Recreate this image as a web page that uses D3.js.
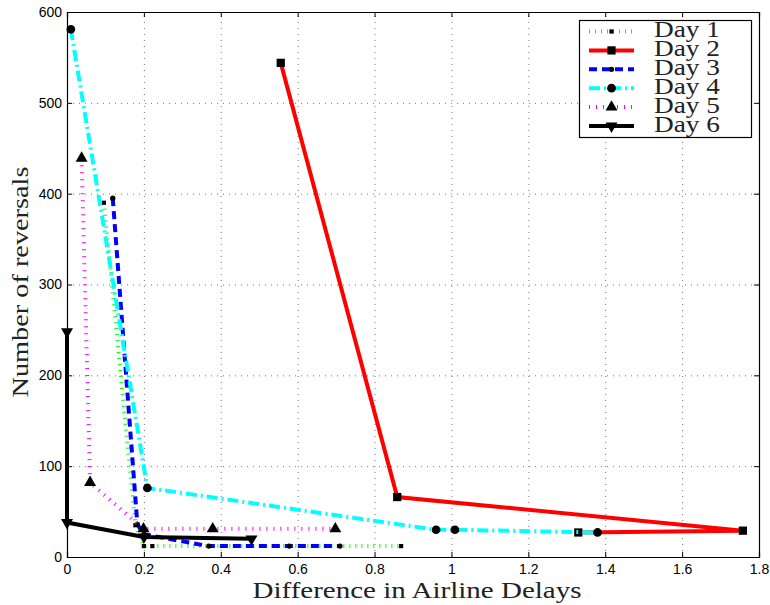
<!DOCTYPE html>
<html>
<head>
<meta charset="utf-8">
<script src="https://cdn.jsdelivr.net/npm/d3@7"></script>
<style>
  body { margin: 0; background: #fff; }
  .tick text { font-family: "Liberation Sans", Arial, sans-serif; font-size: 14px; fill: #000; }
  .grid line { stroke: #777; stroke-dasharray: 1,5; }
  .grid path { display: none; }
</style>
</head>
<body>
<div id="chart"></div>
<script>
// values
var xTicks = [0, 0.2, 0.4, 0.6, 0.8, 1, 1.2, 1.4, 1.6, 1.8];
var yTicks = [0, 100, 200, 300, 400, 500, 600];

var dayNames = ["Day 1", "Day 2", "Day 3", "Day 4", "Day 5", "Day 6"];

var day1Delay = [0.096, 0.178, 0.2, 0.222, 0.869];
var day1Reversals = [390, 35, 12, 12, 12];

var day2Delay = [0.556, 0.859, 1.758, 1.33];
var day2Reversals = [544, 66, 29, 27];

var day3Delay = [0.119, 0.183, 0.2, 0.369, 0.578, 0.71];
var day3Reversals = [395, 36, 25, 12, 12, 12];

var day4Delay = [0.01, 0.209, 0.96, 1.009, 1.38];
var day4Reversals = [581, 76, 30, 30, 27];

var day5Delay = [0.038, 0.06, 0.199, 0.379, 0.698];
var day5Reversals = [439, 82, 31, 31, 31];

var day6Delay = [0, 0, 0.2, 0.48];
var day6Reversals = [248, 38, 22, 20];

var svgWidth = 770;
var svgHeight = 605;

var margin = { top: 12, right: 11, bottom: 48, left: 67 };
var width = svgWidth - margin.left - margin.right;
var height = svgHeight - margin.top - margin.bottom;

var svg = d3.select("#chart")
  .append("svg")
  .attr("width", svgWidth)
  .attr("height", svgHeight);

var chartGroup = svg.append("g")
  .attr("transform", `translate(${margin.left}, ${margin.top})`);

var xScale = d3.scaleLinear().domain([0, 1.8]).range([0, width]);
var yScale = d3.scaleLinear().domain([0, 600]).range([height, 0]);

// dotted grid
chartGroup.append("g")
  .attr("class", "grid")
  .attr("transform", `translate(0, ${height})`)
  .call(d3.axisBottom(xScale).tickValues(xTicks).tickSize(-height).tickFormat(""));
chartGroup.append("g")
  .attr("class", "grid")
  .call(d3.axisLeft(yScale).tickValues(yTicks).tickSize(-width).tickFormat(""));

// styles per day
var series = [
  { x: day1Delay, y: day1Reversals, color: "#00ff00", width: 4, dash: "1,5", marker: d3.symbolSquare, size: 18, rot: 0 },
  { x: day2Delay, y: day2Reversals, color: "#ff0000", width: 4, dash: null, marker: d3.symbolSquare, size: 68, rot: 0 },
  { x: day3Delay, y: day3Reversals, color: "#0000ff", width: 4, dash: "8,5", marker: d3.symbolCircle, size: 22, rot: 0 },
  { x: day4Delay, y: day4Reversals, color: "#00ffff", width: 4, dash: "11,4,2,4", marker: d3.symbolCircle, size: 60, rot: 0 },
  { x: day5Delay, y: day5Reversals, color: "#ff00ff", width: 4, dash: "1,6", marker: d3.symbolTriangle, size: 62, rot: 0 },
  { x: day6Delay, y: day6Reversals, color: "#000000", width: 4, dash: null, marker: d3.symbolTriangle, size: 62, rot: 180 }
];

var line = d3.line()
  .x(d => xScale(d[0]))
  .y(d => yScale(d[1]));

series.forEach(function(s) {
  var pts = s.x.map((v, i) => [v, s.y[i]]);

  chartGroup.append("path")
    .datum(pts)
    .attr("d", line)
    .attr("fill", "none")
    .attr("stroke", s.color)
    .attr("stroke-width", s.width)
    .attr("stroke-dasharray", s.dash);

  chartGroup.selectAll(null)
    .data(pts)
    .enter()
    .append("path")
    .attr("d", d3.symbol().type(s.marker).size(s.size))
    .attr("transform", d => `translate(${xScale(d[0])}, ${yScale(d[1])}) rotate(${s.rot})`)
    .attr("fill", "#000");
});

// axes with inward ticks, all four sides
chartGroup.append("g")
  .attr("transform", `translate(0, ${height})`)
  .call(d3.axisBottom(xScale).tickValues(xTicks).tickSize(-5).tickPadding(7).tickFormat(d => d));
chartGroup.append("g")
  .call(d3.axisLeft(yScale).tickValues(yTicks).tickSize(-5).tickPadding(5));
chartGroup.append("g")
  .call(d3.axisTop(xScale).tickValues(xTicks).tickSize(-5).tickFormat(""));
chartGroup.append("g")
  .attr("transform", `translate(${width}, 0)`)
  .call(d3.axisRight(yScale).tickValues(yTicks).tickSize(-5).tickFormat(""));

chartGroup.selectAll(".domain").attr("stroke", "#000").attr("stroke-width", 1.2);
chartGroup.selectAll(".tick line").filter(function() { return !this.closest(".grid"); })
  .attr("stroke", "#000");

// axis titles
svg.append("text")
  .attr("x", 417)
  .attr("y", 598)
  .attr("text-anchor", "middle")
  .attr("textLength", 329)
  .attr("lengthAdjust", "spacingAndGlyphs")
  .style("font-family", "'Liberation Serif', serif")
  .style("font-size", "24px")
  .attr("fill", "#222")
  .text("Difference in Airline Delays");

svg.append("text")
  .attr("transform", "translate(28, 282) rotate(-90)")
  .attr("text-anchor", "middle")
  .attr("textLength", 231)
  .attr("lengthAdjust", "spacingAndGlyphs")
  .style("font-family", "'Liberation Serif', serif")
  .style("font-size", "24px")
  .attr("fill", "#222")
  .text("Number of reversals");

// legend
var legend = svg.append("g");
legend.append("rect")
  .attr("x", 579.5)
  .attr("y", 20.5)
  .attr("width", 172)
  .attr("height", 117)
  .attr("fill", "#fff")
  .attr("stroke", "#000")
  .attr("stroke-width", 1.2);

series.forEach(function(s, i) {
  var ly = 31.5 + i * 18.9;
  legend.append("line")
    .attr("x1", 589).attr("x2", 634)
    .attr("y1", ly).attr("y2", ly)
    .attr("stroke", s.color)
    .attr("stroke-width", s.width)
    .attr("stroke-dasharray", s.dash);
  legend.append("path")
    .attr("d", d3.symbol().type(s.marker).size(s.size))
    .attr("transform", `translate(611.5, ${ly}) rotate(${s.rot})`)
    .attr("fill", "#000");
  legend.append("text")
    .attr("x", 654)
    .attr("y", ly + 5.5)
    .attr("textLength", 66)
    .attr("lengthAdjust", "spacingAndGlyphs")
    .style("font-family", "'Liberation Serif', serif")
    .style("font-size", "23px")
    .attr("fill", "#222")
    .text(dayNames[i]);
});
</script>
</body>
</html>
